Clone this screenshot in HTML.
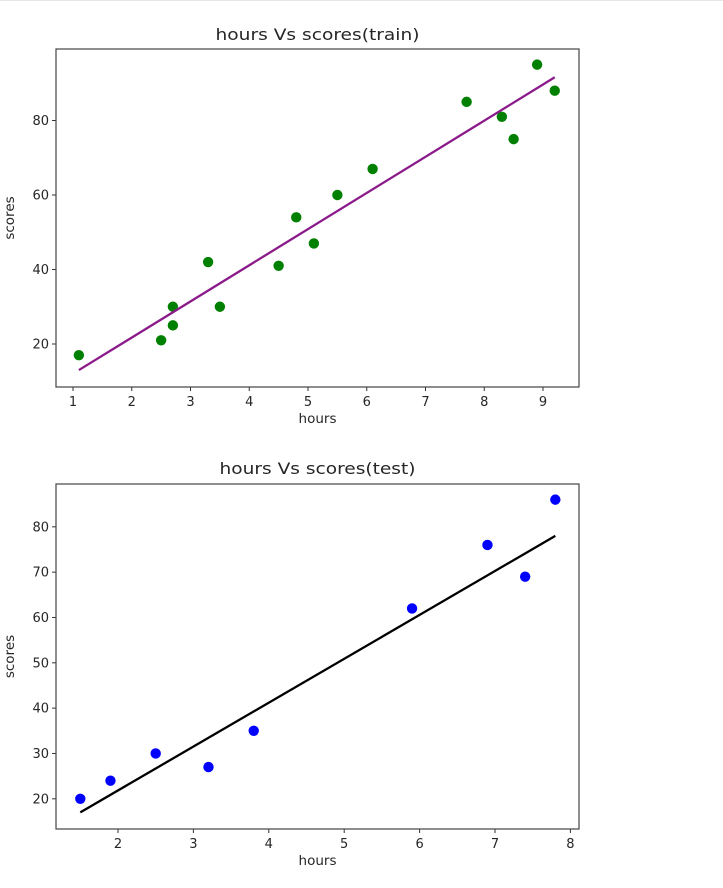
<!DOCTYPE html>
<html><head><meta charset="utf-8"><style>
body{margin:0;background:#fff;width:723px;height:888px;overflow:hidden}
svg{display:block;font-family:"DejaVu Sans","Liberation Sans",sans-serif}
</style></head><body>
<div style="position:absolute;left:0;top:0;width:723px;height:1px;background:#e6e6e6"></div>
<svg id="c" width="723" height="888"></svg>
<script>
const trainX=[1.1,2.5,2.7,2.7,3.3,3.5,4.5,4.8,5.1,5.5,6.1,7.7,8.3,8.5,8.9,9.2];
const trainY=[17,21,25,30,42,30,41,54,47,60,67,85,81,75,95,88];
const trainLineX=[1.1,9.2];
const trainLineY=[13.0,91.6];
const trainXTicks=[1,2,3,4,5,6,7,8,9];
const trainYTicks=[20,40,60,80];
const testX=[1.5,1.9,2.5,3.2,3.8,5.9,6.9,7.4,7.8];
const testY=[20,24,30,27,35,62,76,69,86];
const testLineX=[1.5,7.8];
const testLineY=[17,78];
const testXTicks=[2,3,4,5,6,7,8];
const testYTicks=[20,30,40,50,60,70,80];

const svg=document.getElementById('c');
const NS='http://www.w3.org/2000/svg';
function mk(tag,attrs,parent){const e=document.createElementNS(NS,tag);for(const k in attrs)e.setAttribute(k,attrs[k]);(parent||svg).appendChild(e);return e;}

function panel(o){
  const g=mk('g',{});
  
  
  const sx=v=>o.x0px+(v-o.x0)*o.xs;
  const sy=v=>o.y0px-(v-o.y0)*o.ys;
  const t=mk('text',{x:(o.L+o.R)/2,y:o.ty,'text-anchor':'middle','font-size':'16',fill:'#262626',textLength:o.tl,lengthAdjust:'spacingAndGlyphs'},g);
  t.textContent=o.title;
  
  
  o.xt.forEach(v=>{
    const x=sx(v);
    const tk=mk('line',{x1:x,x2:x,y1:o.B,y2:o.B+4,stroke:'#333'},g);
    
    
    const l=mk('text',{x:x,y:o.B+19,'text-anchor':'middle','font-size':'13',fill:'#262626'},g);
    l.textContent=v;
    
    
  });
  o.yt.forEach(v=>{
    const y=sy(v);
    const tk=mk('line',{x1:o.L-4,x2:o.L,y1:y,y2:y,stroke:'#333'},g);
    
    
    const l=mk('text',{x:o.L-7,y:y+4.5,'text-anchor':'end','font-size':'13',fill:'#262626'},g);
    l.textContent=v;
    
    
  });
  const xl=mk('text',{x:(o.L+o.R)/2,y:o.B+36,'text-anchor':'middle','font-size':'13.5',fill:'#262626'},g);
  xl.textContent='hours';
  
  
  const yc=(o.T+o.B)/2;
  const yl=mk('text',{x:14,y:yc,'text-anchor':'middle','font-size':'13.5',fill:'#262626',transform:`rotate(-90 14 ${yc})`},g);
  yl.textContent='scores';
  
  
  o.px.forEach((v,i)=>{
    const c=mk('circle',{cx:sx(v),cy:sy(o.py[i]),r:5.2,fill:o.pc},g);
    
    
  });
  const ln=mk('line',{x1:sx(o.lx[0]),y1:sy(o.ly[0]),x2:sx(o.lx[1]),y2:sy(o.ly[1]),stroke:o.lc,'stroke-width':2.3},g);
  
  
  const fr=mk('rect',{x:o.L,y:o.T,width:o.R-o.L,height:o.B-o.T,fill:'none',stroke:'#444','stroke-width':1.2},g);
  
  
}
panel({name:'train',title:'hours Vs scores(train)',ty:40,tl:204,L:56,R:579,T:49,B:387,
  x0:1,x0px:73,xs:58.75,y0:20,y0px:344,ys:3.725,xt:trainXTicks,yt:trainYTicks,
  px:trainX,py:trainY,pc:'#008000',lx:trainLineX,ly:trainLineY,lc:'#8b1a8b'});
panel({name:'test',title:'hours Vs scores(test)',ty:474,tl:196,L:56,R:579,T:484,B:829,
  x0:2,x0px:118,xs:75.4,y0:20,y0px:798.8,ys:4.533,xt:testXTicks,yt:testYTicks,
  px:testX,py:testY,pc:'#0000ff',lx:testLineX,ly:testLineY,lc:'#000'});
</script>
</body></html>
